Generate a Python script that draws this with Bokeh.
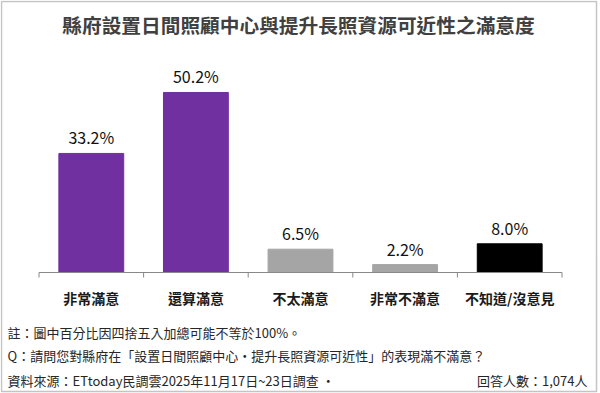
from bokeh.plotting import figure
from bokeh.models import FactorRange, Range1d, ColumnDataSource
from bokeh.embed import file_html
from bokeh.resources import INLINE
from bokeh.core.properties import value

# ---- data ----
categories = ["非常滿意", "還算滿意", "不太滿意", "非常不滿意", "不知道/沒意見"]
values = [33.2, 50.2, 6.5, 2.2, 8.0]
value_labels = ["33.2%", "50.2%", "6.5%", "2.2%", "8.0%"]
colors = ["#7030A0", "#7030A0", "#A5A5A5", "#A5A5A5", "#000000"]
title_text = "縣府設置日間照顧中心與提升長照資源可近性之滿意度"
notes = [
    "註：圖中百分比因四捨五入加總可能不等於100%。",
    "Q：請問您對縣府在「設置日間照顧中心‧提升長照資源可近性」的表現滿不滿意？",
    "資料來源：ETtoday民調雲2025年11月17日~23日調查 ‧",
]
sample_text = "回答人數：1,074人"

FONT = "Noto Sans CJK TC"

W, H = 600, 393
LEFT, RIGHT = 39, 562               # category area edges in canvas pixels
BASE = 272                           # pixel row of the zero line
PX = 3.586                           # pixels per percentage point
CATW = (RIGHT - LEFT) / len(categories)
PAD = (W / CATW - len(categories)) / 2

y_start = -(H - BASE) / PX
y_end = BASE / PX

def ydat(py):
    return (BASE - py) / PX

def xdat(px):
    return (px - (W / 2 - CATW * len(categories) / 2)) / CATW

src = ColumnDataSource(dict(cat=categories, val=values, lab=value_labels, color=colors))

p = figure(
    width=W, height=H,
    x_range=FactorRange(factors=categories, range_padding=PAD, range_padding_units="absolute"),
    y_range=Range1d(y_start, y_end),
    output_backend="svg", toolbar_location=None,
    x_axis_location=None, y_axis_location=None,
    min_border_left=0, min_border_right=0, min_border_top=0, min_border_bottom=0,
)
p.outline_line_color = None
p.xgrid.grid_line_color = None
p.ygrid.grid_line_color = None
p.background_fill_color = "white"
p.border_fill_color = "white"

# outer frame of the picture
p.rect(x=[xdat(298.5)], y=[ydat(196)], width=[595], height=[390],
       width_units="screen", height_units="screen",
       fill_color=None, line_color="#c4c4c4", line_width=1.5)

# title
p.text(x=[xdat(298)], y=[ydat(24)], text=[title_text], text_align="center",
       text_baseline="middle", text_font=value(FONT), text_font_size="19.7px",
       text_font_style="bold", text_color="#404040")

p.vbar(x="cat", top="val", width=0.62, fill_color="color", line_color="color", source=src)
p.text(x="cat", y="val", text="lab", source=src, text_align="center",
       text_baseline="alphabetic", y_offset=-16, text_font=value(FONT),
       text_font_size="16px", text_color="#111111")

# baseline and boundary ticks
p.segment(x0=[0], y0=[0], x1=[len(categories)], y1=[0], line_color="#888888", line_width=1)
bounds = list(range(len(categories) + 1))
p.segment(x0=bounds, y0=[0] * len(bounds), x1=bounds, y1=[ydat(BASE + 5)] * len(bounds),
          line_color="#888888", line_width=1)

# category labels
p.text(x="cat", y=ydat(297), text="cat", source=src, text_align="center",
       text_baseline="middle", text_font=value(FONT), text_font_size="14px",
       text_font_style="bold", text_color="#1a1a1a")

# footnotes
note_y = [332, 355, 380]
p.text(x=[xdat(7)] * len(notes), y=[ydat(v) for v in note_y], text=notes,
       text_align="left", text_baseline="middle", text_font=value(FONT),
       text_font_size="13px", text_color="#262626")
p.text(x=[xdat(587)], y=[ydat(380)], text=[sample_text],
       text_align="right", text_baseline="middle", text_font=value(FONT),
       text_font_size="13px", text_color="#262626")

open("out.html", "w").write(file_html(p, INLINE))
